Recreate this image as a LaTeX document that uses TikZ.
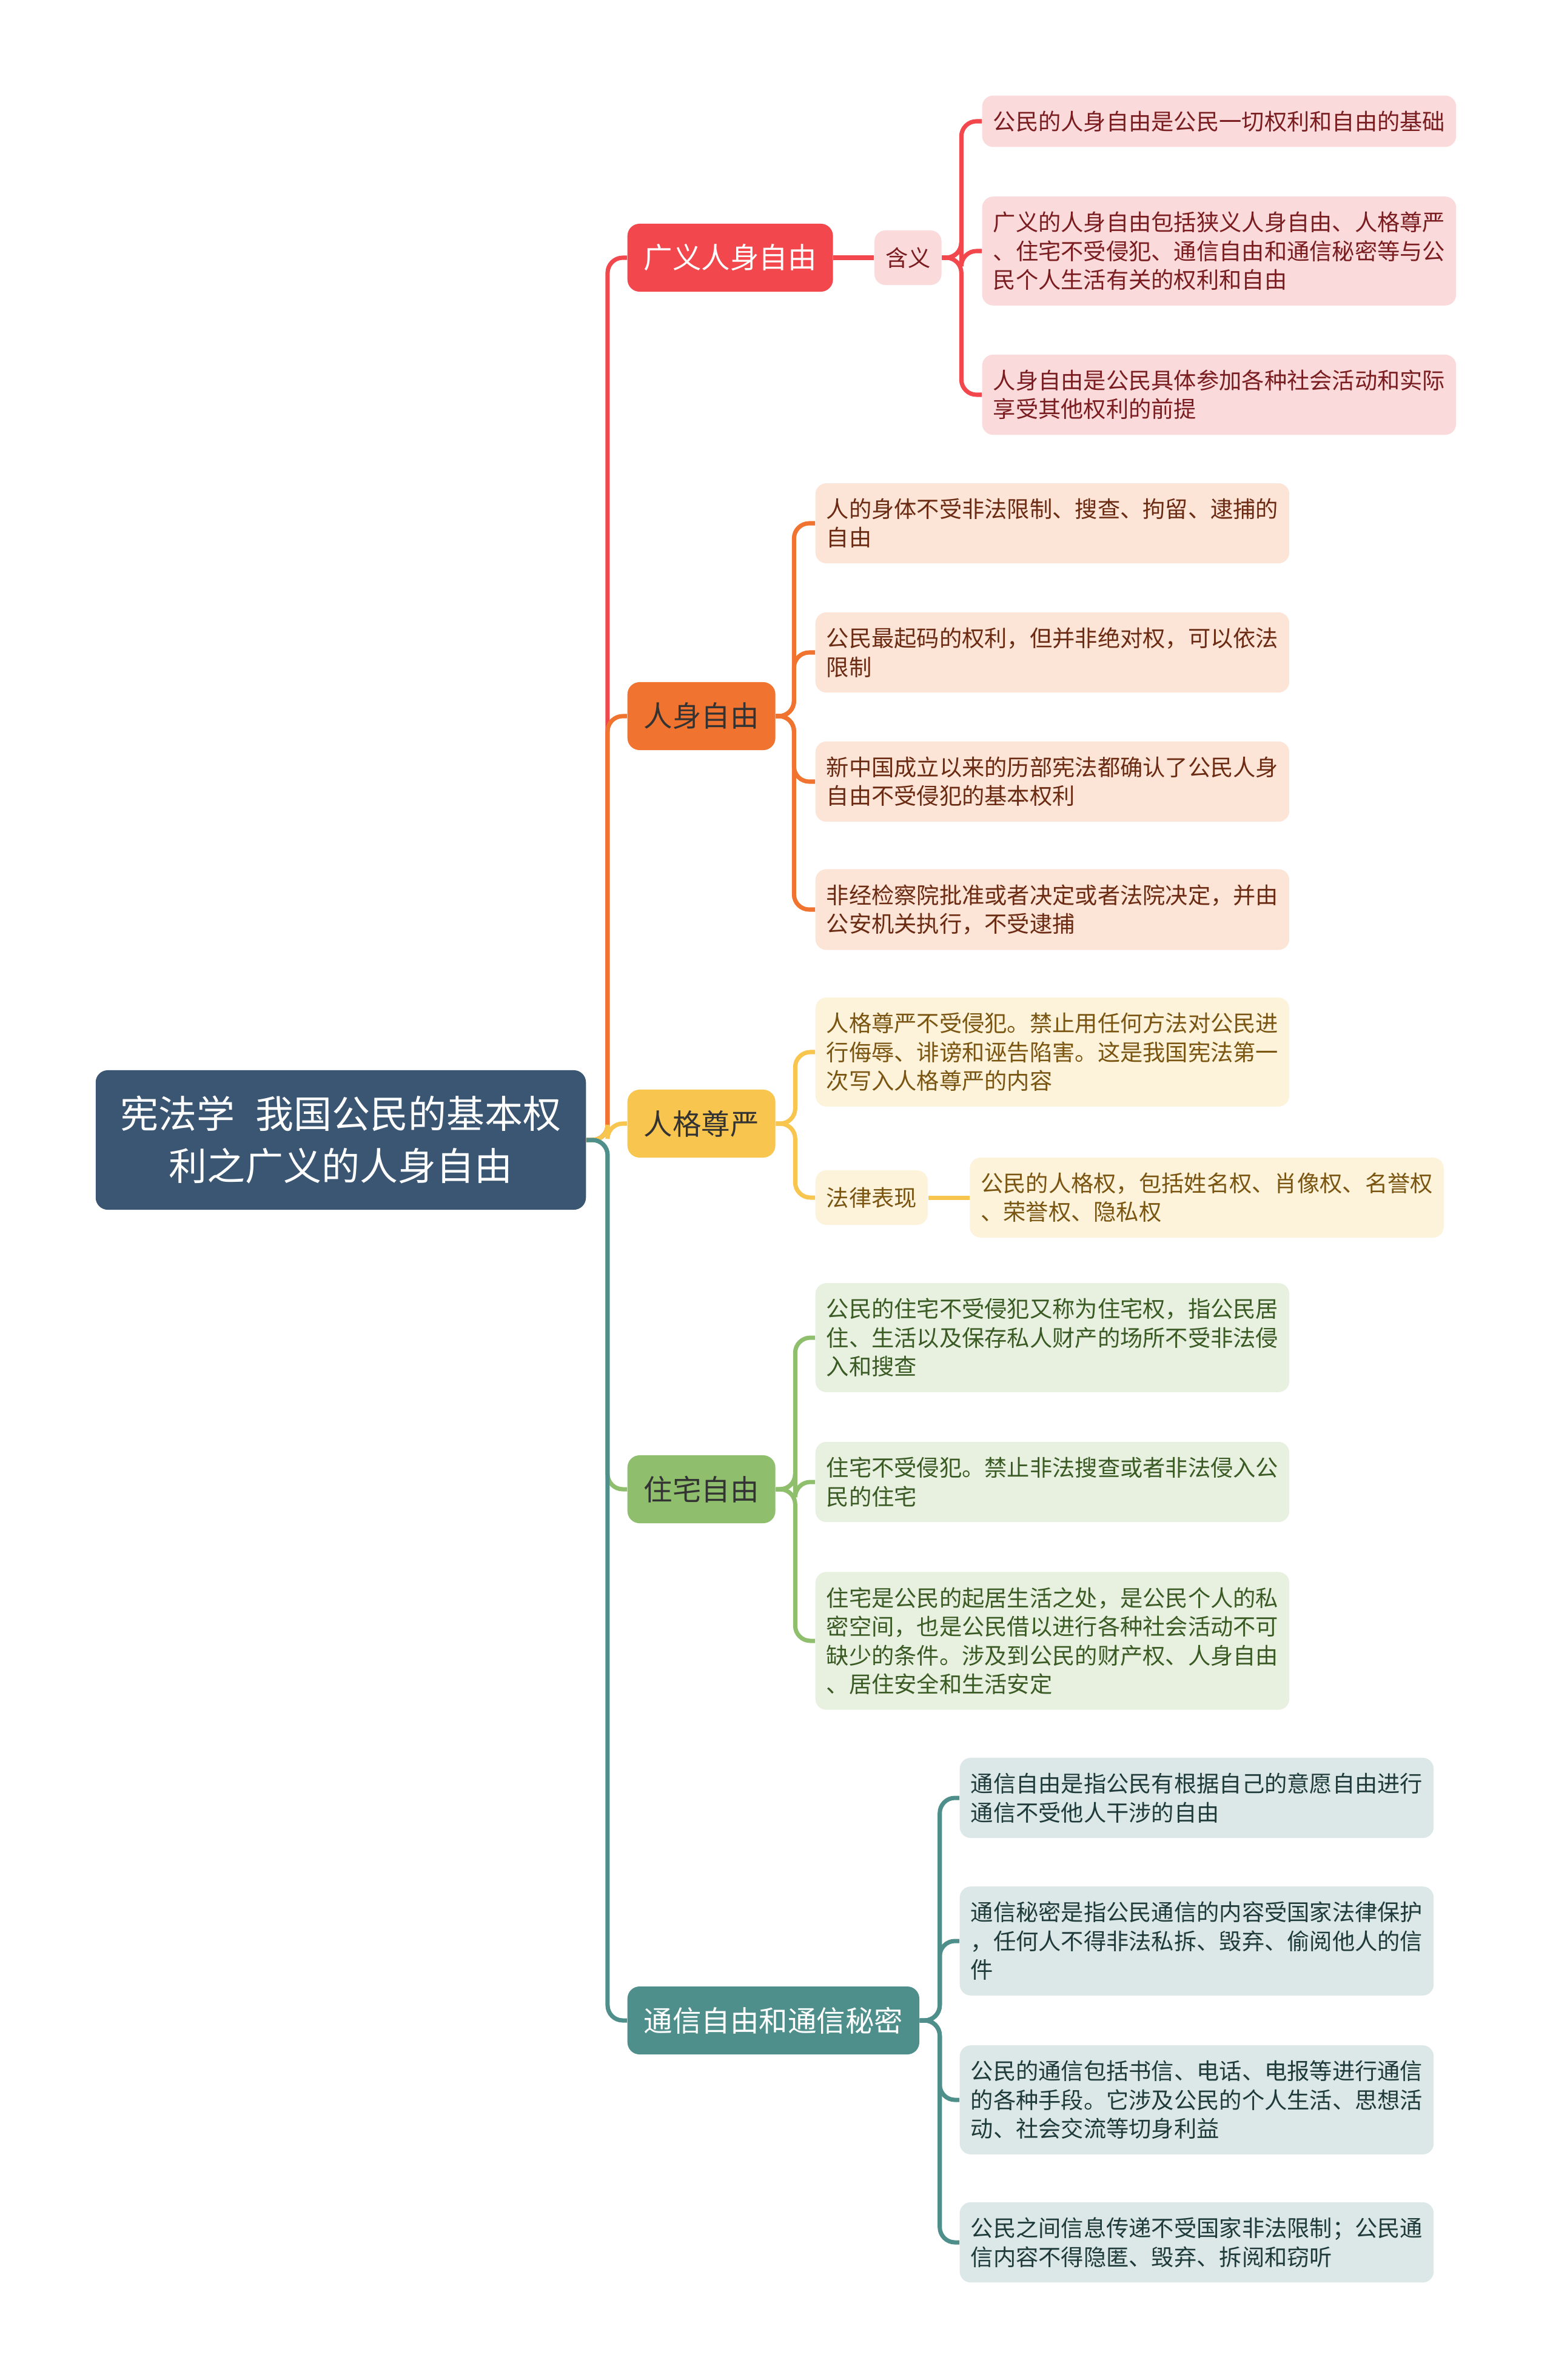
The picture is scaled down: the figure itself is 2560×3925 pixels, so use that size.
\documentclass[tikz,border=0pt]{standalone}
\usepackage{fontspec}
\setmainfont{Noto Sans CJK SC}
\usepackage{tikz}
\usetikzlibrary{positioning}
\definecolor{rootblue}{HTML}{3B5672}
\definecolor{topred}{HTML}{F2474D}
\definecolor{toporange}{HTML}{F0742F}
\definecolor{topyellow}{HTML}{F8C64F}
\definecolor{topgreen}{HTML}{8FBF6D}
\definecolor{topteal}{HTML}{4E8F8B}
\definecolor{softred}{HTML}{FBDADB}
\definecolor{softorange}{HTML}{FCE4D6}
\definecolor{softyellow}{HTML}{FDF3DA}
\definecolor{softgreen}{HTML}{E8F0E0}
\definecolor{softteal}{HTML}{DCE8E7}
\definecolor{inkred}{HTML}{7A1D20}
\definecolor{inkorange}{HTML}{6B2A12}
\definecolor{inkyellow}{HTML}{7A5512}
\definecolor{inkgreen}{HTML}{3A5A24}
\definecolor{inkteal}{HTML}{1F3A3A}
\definecolor{inkdark}{HTML}{333333}

\begin{document}
\begin{tikzpicture}[
  x=0.01cm, y=-0.01cm,
  rootbox/.style={rounded corners=0.2cm, fill=rootblue, text=white, align=center,
    minimum width=8.08cm, minimum height=2.3cm, font=\fontsize{17.9}{24.5}\selectfont},
  topic/.style={anchor=west, rounded corners=0.2cm, minimum height=1.12cm, inner xsep=0.27cm,
    font=\fontsize{13.5}{16}\selectfont},
  sub/.style={rounded corners=0.18cm, minimum height=0.9cm, inner xsep=0.18cm,
    font=\fontsize{10.6}{13.5}\selectfont},
  leaf/.style={anchor=west, rounded corners=0.18cm, align=left, text width=7.45cm,
    inner xsep=0.18cm, inner ysep=0.25cm, font=\fontsize{10.6}{13.5}\selectfont},
  link/.style={line width=2pt, rounded corners=0.25cm}
]
\path[fill=white,use as bounding box] (0,0) rectangle (2560,3925);

\node[rootbox] (root) at (562,1880) {宪法学\hspace{0.55em}我国公民的基本权\\利之广义的人身自由};

% first level
\node[topic, fill=topred, text=white] (guangyi) at (1034,425) {广义人身自由};
\node[topic, fill=toporange, text=inkdark] (renshen) at (1034,1181) {人身自由};
\node[topic, fill=topyellow, text=inkdark] (renge) at (1034,1853) {人格尊严};
\node[topic, fill=topgreen, text=inkdark] (zhuzhai) at (1034,2456) {住宅自由};
\node[topic, fill=topteal, text=white] (tongxin) at (1034,3332) {通信自由和通信秘密};

% guangyi
\node[sub, fill=softred, text=inkred, right=0.67cm of guangyi] (hanyi) {含义};
\node[leaf, fill=softred, text=inkred] (hanyi1) at (1619,200) {公民的人身自由是公民一切权利和自由的基础};
\node[leaf, fill=softred, text=inkred] (hanyi2) at (1619,414) {广义的人身自由包括狭义人身自由、人格尊严\\、住宅不受侵犯、通信自由和通信秘密等与公\\民个人生活有关的权利和自由};
\node[leaf, fill=softred, text=inkred] (hanyi3) at (1619,651) {人身自由是公民具体参加各种社会活动和实际\\享受其他权利的前提};

% renshen
\node[leaf, fill=softorange, text=inkorange] (renshen1) at (1344,863) {人的身体不受非法限制、搜查、拘留、逮捕的\\自由};
\node[leaf, fill=softorange, text=inkorange] (renshen2) at (1344,1076) {公民最起码的权利，但并非绝对权，可以依法\\限制};
\node[leaf, fill=softorange, text=inkorange] (renshen3) at (1344,1289) {新中国成立以来的历部宪法都确认了公民人身\\自由不受侵犯的基本权利};
\node[leaf, fill=softorange, text=inkorange] (renshen4) at (1344,1500) {非经检察院批准或者决定或者法院决定，并由\\公安机关执行，不受逮捕};

% renge
\node[leaf, fill=softyellow, text=inkyellow] (renge1) at (1344,1735) {人格尊严不受侵犯。禁止用任何方法对公民进\\行侮辱、诽谤和诬告陷害。这是我国宪法第一\\次写入人格尊严的内容};
\node[sub, fill=softyellow, text=inkyellow, anchor=west] (falv) at (1344,1975) {法律表现};
\node[leaf, fill=softyellow, text=inkyellow, right=0.68cm of falv] (falv1) {公民的人格权，包括姓名权、肖像权、名誉权\\、荣誉权、隐私权};

% zhuzhai
\node[leaf, fill=softgreen, text=inkgreen] (zhuzhai1) at (1344,2206) {公民的住宅不受侵犯又称为住宅权，指公民居\\住、生活以及保存私人财产的场所不受非法侵\\入和搜查};
\node[leaf, fill=softgreen, text=inkgreen] (zhuzhai2) at (1344,2444) {住宅不受侵犯。禁止非法搜查或者非法侵入公\\民的住宅};
\node[leaf, fill=softgreen, text=inkgreen] (zhuzhai3) at (1344,2706) {住宅是公民的起居生活之处，是公民个人的私\\密空间，也是公民借以进行各种社会活动不可\\缺少的条件。涉及到公民的财产权、人身自由\\、居住安全和生活安定};

% tongxin
\node[leaf, fill=softteal, text=inkteal] (tongxin1) at (1582,2965) {通信自由是指公民有根据自己的意愿自由进行\\通信不受他人干涉的自由};
\node[leaf, fill=softteal, text=inkteal] (tongxin2) at (1582,3201) {通信秘密是指公民通信的内容受国家法律保护\\，任何人不得非法私拆、毁弃、偷阅他人的信\\件};
\node[leaf, fill=softteal, text=inkteal] (tongxin3) at (1582,3463) {公民的通信包括书信、电话、电报等进行通信\\的各种手段。它涉及公民的个人生活、思想活\\动、社会交流等切身利益};
\node[leaf, fill=softteal, text=inkteal] (tongxin4) at (1582,3698) {公民之间信息传递不受国家非法限制；公民通\\信内容不得隐匿、毁弃、拆阅和窃听};

% links from root
\draw[link, topred] (root.east) -- ++(35,0) |- (guangyi.west);
\draw[link, toporange] (root.east) -- ++(35,0) |- (renshen.west);
\draw[link, topyellow] (root.east) -- ++(35,0) |- (renge.west);
\draw[link, topgreen] (root.east) -- ++(35,0) |- (zhuzhai.west);
\draw[link, topteal] (root.east) -- ++(35,0) |- (tongxin.west);

% links to leaves
\draw[link, topred] (guangyi.east) -- (hanyi.west);
\draw[link, topred] (hanyi.east) -- ++(32,0) |- (hanyi1.west);
\draw[link, topred] (hanyi.east) -- ++(32,0) |- (hanyi2.west);
\draw[link, topred] (hanyi.east) -- ++(32,0) |- (hanyi3.west);
\draw[link, toporange] (renshen.east) -- ++(30,0) |- (renshen1.west);
\draw[link, toporange] (renshen.east) -- ++(30,0) |- (renshen2.west);
\draw[link, toporange] (renshen.east) -- ++(30,0) |- (renshen3.west);
\draw[link, toporange] (renshen.east) -- ++(30,0) |- (renshen4.west);
\draw[link, topyellow] (renge.east) -- ++(32,0) |- (renge1.west);
\draw[link, topyellow] (renge.east) -- ++(32,0) |- (falv.west);
\draw[link, topyellow] (falv.east) -- (falv1.west);
\draw[link, topgreen] (zhuzhai.east) -- ++(32,0) |- (zhuzhai1.west);
\draw[link, topgreen] (zhuzhai.east) -- ++(32,0) |- (zhuzhai2.west);
\draw[link, topgreen] (zhuzhai.east) -- ++(32,0) |- (zhuzhai3.west);
\draw[link, topteal] (tongxin.east) -- ++(33,0) |- (tongxin1.west);
\draw[link, topteal] (tongxin.east) -- ++(33,0) |- (tongxin2.west);
\draw[link, topteal] (tongxin.east) -- ++(33,0) |- (tongxin3.west);
\draw[link, topteal] (tongxin.east) -- ++(33,0) |- (tongxin4.west);
\end{tikzpicture}
\end{document}
